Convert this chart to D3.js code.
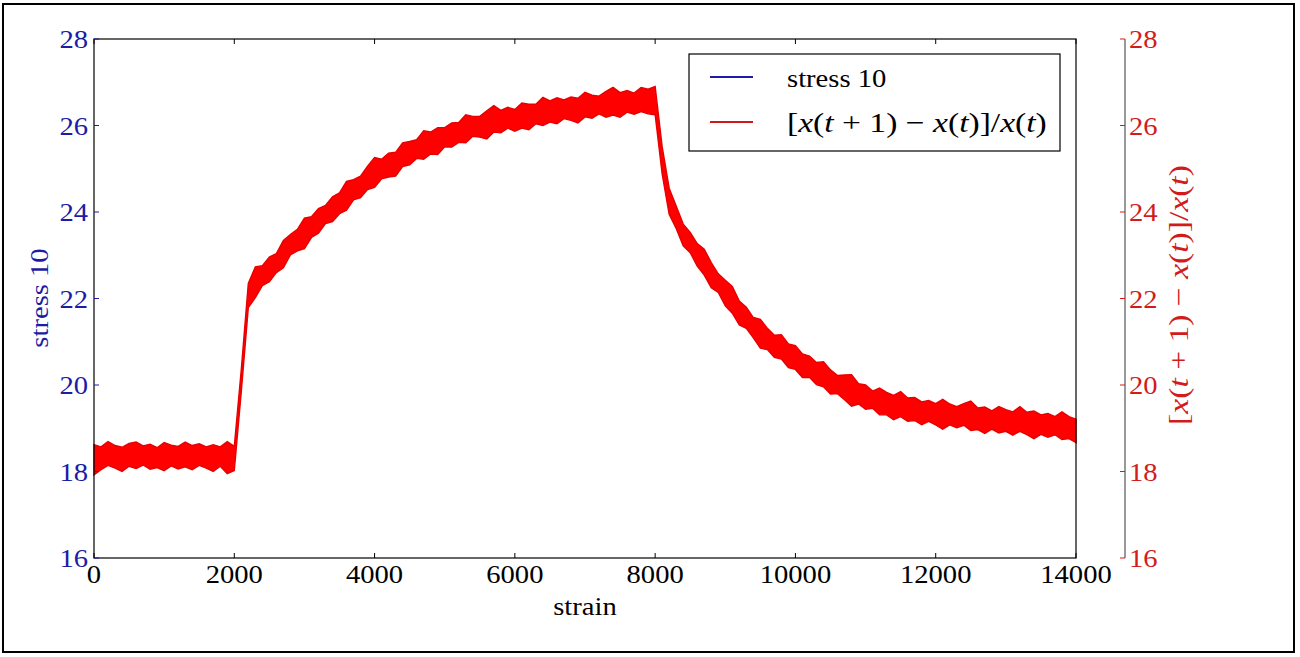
<!DOCTYPE html>
<html><head><meta charset="utf-8">
<script src="https://cdn.jsdelivr.net/npm/d3@7"></script>
<style>
body{margin:0;background:#fff}
text{font-family:"Liberation Serif","Times New Roman",Times,serif;white-space:pre}
</style>
</head><body><svg id="c" width="1300" height="657"></svg>
<script>
// ---------------- data ----------------
const xTicks = [0, 2000, 4000, 6000, 8000, 10000, 12000, 14000];
const yTicks = [16, 18, 20, 22, 24, 26, 28];
const yTicksRight = [16, 18, 20, 22, 24, 26, 28];
const seriesNames = ["stress 10", "[x(t+1) − x(t)]/x(t)"];
const strainGrid = d3.range(0, 14001, 100);
// upper / lower envelope of the noisy red series
const upper = [
 18.62,18.57,18.69,18.60,18.56,18.65,18.68,18.59,18.63,18.55,18.67,18.61,18.58,18.68,18.60,18.64,18.57,18.62,18.57,18.69,
 18.58,20.36,22.35,22.73,22.76,22.96,23.04,23.34,23.48,23.60,
 23.86,23.89,24.08,24.15,24.35,24.44,24.71,24.75,24.83,25.06,
 25.26,25.22,25.36,25.38,25.60,25.63,25.67,25.88,25.85,25.95,
 25.95,26.06,26.07,26.25,26.21,26.21,26.34,26.46,26.35,26.42,
 26.37,26.52,26.49,26.49,26.65,26.57,26.64,26.59,26.66,26.63,
 26.77,26.70,26.68,26.79,26.88,26.76,26.81,26.75,26.88,26.84,
 26.90,25.51,24.55,24.14,23.72,23.53,23.27,23.14,22.83,22.57,
 22.42,22.28,21.94,21.80,21.56,21.52,21.31,21.15,21.16,20.95,
 20.91,20.72,20.67,20.52,20.54,20.35,20.22,20.23,20.24,20.03,
 20.00,19.86,19.93,19.83,19.76,19.85,19.70,19.71,19.61,19.64,
 19.57,19.67,19.56,19.50,19.57,19.63,19.47,19.49,19.40,19.50,
 19.43,19.38,19.50,19.37,19.40,19.31,19.34,19.27,19.38,19.27,
 19.21];
const lower = [
 17.92,18.04,18.14,18.08,18.00,18.12,18.07,18.15,18.05,18.09,18.02,18.13,18.06,18.11,18.04,18.14,18.08,18.00,18.12,17.95,
 18.02,19.85,21.79,22.02,22.30,22.39,22.60,22.71,23.01,23.10,
 23.15,23.41,23.51,23.73,23.78,23.96,24.04,24.28,24.33,24.52,
 24.57,24.77,24.81,24.83,25.05,25.09,25.24,25.22,25.34,25.33,
 25.51,25.50,25.61,25.60,25.75,25.73,25.69,25.85,25.83,25.94,
 25.87,25.94,25.90,26.04,26.00,26.08,26.04,26.16,26.12,26.06,
 26.20,26.17,26.27,26.19,26.24,26.19,26.31,26.26,26.32,26.27,
 26.25,24.88,23.95,23.62,23.22,23.06,22.75,22.54,22.25,22.14,
 21.83,21.66,21.39,21.31,21.09,20.85,20.82,20.64,20.60,20.40,
 20.36,20.17,20.18,20.01,19.96,19.79,19.80,19.66,19.51,19.56,
 19.44,19.46,19.31,19.31,19.20,19.27,19.16,19.18,19.08,19.16,
 19.08,18.98,19.08,19.01,19.07,18.95,18.97,18.88,18.98,18.89,
 18.93,18.84,18.93,18.85,18.76,18.86,18.79,18.85,18.74,18.76,
 18.67];

// ---------------- layout ----------------
const L = 94, R = 1076, T = 39, B = 558, RA = 1125;
const BLUE = "#1c1ca6", RED = "#d21c1c", FS = 26, SX = 1.1;
const FONT = "Liberation Serif, Times New Roman, Times, serif";
const svg = d3.select("#c");
const x = d3.scaleLinear().domain([0, 14000]).range([L, R]);
const y = d3.scaleLinear().domain([16, 28]).range([B, T]);
const y2 = d3.scaleLinear().domain([16, 28]).range([B, T]);

// outer frame
svg.append("rect").attr("x", 3).attr("y", 4).attr("width", 1291).attr("height", 648)
  .attr("fill", "none").attr("stroke", "#000").attr("stroke-width", 2);

function label(px, py, txt, anchor, color, rot) {
  const g = svg.append("g").attr("transform", `translate(${px},${py})` + (rot ? ` rotate(${rot})` : ""));
  return g.append("text").attr("transform", `scale(${SX},1)`).attr("text-anchor", anchor)
    .attr("font-family", FONT).attr("fill", color).attr("font-size", FS).text(txt);
}
function mathText(px, py, color, rot) {
  const g = svg.append("g").attr("transform", `translate(${px},${py})` + (rot ? ` rotate(${rot})` : ""));
  const t = g.append("text").attr("transform", "scale(1.2,1)").attr("fill", color)
    .attr("font-size", 28).attr("font-family", FONT)
    .attr("text-anchor", rot ? "middle" : "start");
  const parts = [["[",0],["x",1],["(",0],["t",1],[" + 1) − ",0],["x",1],["(",0],["t",1],[")]/",0],["x",1],["(",0],["t",1],[")",0]];
  parts.forEach(p => t.append("tspan").attr("font-style", p[1] ? "italic" : "normal").text(p[0]));
  return t;
}

// data band
const area = d3.area().x((d, i) => x(strainGrid[i])).y0((d, i) => y2(lower[i])).y1((d, i) => y2(upper[i]));
svg.append("path").datum(upper).attr("d", area).attr("fill", "#ff0000")
  .attr("stroke", "#e80000").attr("stroke-width", 1.4).attr("stroke-linejoin", "miter");

// plot frame
svg.append("rect").attr("x", L).attr("y", T).attr("width", R - L).attr("height", B - T)
  .attr("fill", "none").attr("stroke", "#000").attr("stroke-width", 1.2);

// x ticks
xTicks.forEach(v => {
  svg.append("line").attr("x1", x(v)).attr("x2", x(v)).attr("y1", B).attr("y2", B - 5).attr("stroke", "#000");
  svg.append("line").attr("x1", x(v)).attr("x2", x(v)).attr("y1", T).attr("y2", T + 5).attr("stroke", "#000");
  label(x(v), 583, String(v), "middle", "#000");
});
// left y ticks
yTicks.forEach(v => {
  svg.append("line").attr("x1", L).attr("x2", L + 5).attr("y1", y(v)).attr("y2", y(v)).attr("stroke", BLUE);
  label(88, y(v) + 9, String(v), "end", BLUE);
});
// right axis
svg.append("line").attr("x1", RA).attr("x2", RA).attr("y1", T).attr("y2", B).attr("stroke", "#555").attr("stroke-width", 1.2);
yTicksRight.forEach(v => {
  svg.append("line").attr("x1", RA - 5).attr("x2", RA).attr("y1", y2(v)).attr("y2", y2(v)).attr("stroke", RED);
  label(1129, y2(v) + 9, String(v), "start", RED);
});

// axis titles
label(585, 615, "strain", "middle", "#000");
label(48, 298, seriesNames[0], "middle", BLUE, -90);
mathText(1188, 295, RED, -90);

// legend
svg.append("rect").attr("x", 689).attr("y", 54).attr("width", 371).attr("height", 97)
  .attr("fill", "#fff").attr("stroke", "#000").attr("stroke-width", 1.2);
svg.append("line").attr("x1", 710).attr("x2", 753).attr("y1", 77).attr("y2", 77).attr("stroke", BLUE).attr("stroke-width", 2);
svg.append("line").attr("x1", 710).attr("x2", 753).attr("y1", 122).attr("y2", 122).attr("stroke", "#d01818").attr("stroke-width", 2);
label(787, 87, seriesNames[0], "start", "#000");
mathText(787, 132, "#000", 0);
</script>
</body></html>
